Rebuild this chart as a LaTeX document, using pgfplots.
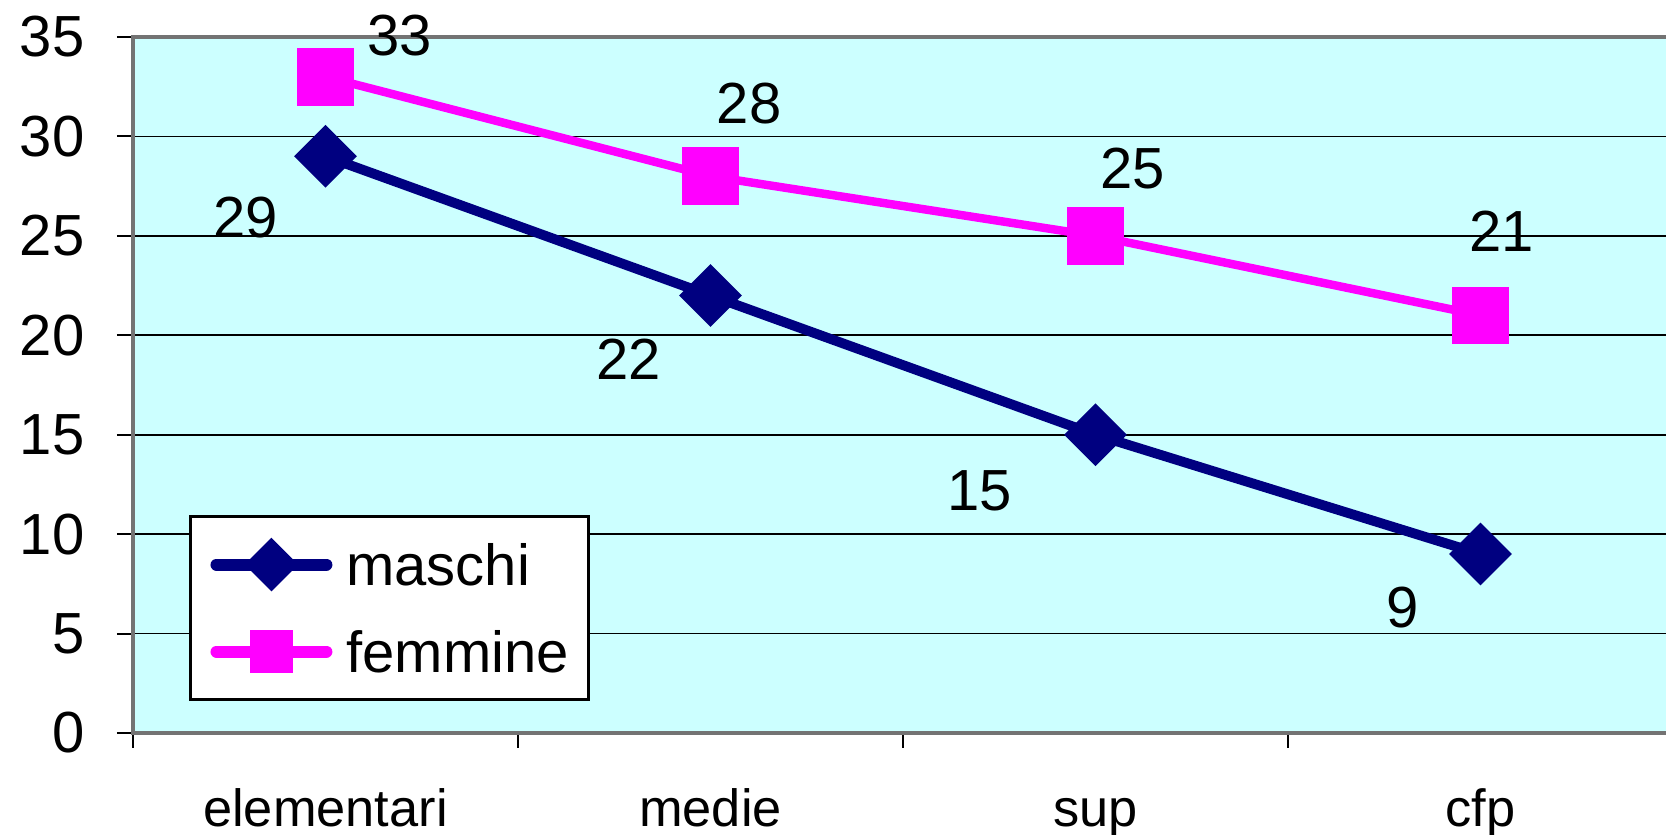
\documentclass[border=0pt]{standalone}
\usepackage{fontspec}
\setmainfont{Liberation Sans}
\usepackage{pgfplots}
\pgfplotsset{compat=1.18}
\definecolor{bgc}{HTML}{CCFFFF}
\definecolor{navyc}{HTML}{000080}
\definecolor{magc}{HTML}{FF00FF}
\begin{document}
\begin{tikzpicture}
\begin{axis}[
  name=ax,
  scale only axis,
  width=15.40cm, height=6.96cm,
  xmin=-0.5, xmax=3.5,
  ymin=0, ymax=35,
  clip=false,
  axis background/.style={fill=bgc},
  axis line style={draw=black!55, line width=1.3pt},
  ytick={0,5,...,35},
  xtick={0,1,2,3},
  xticklabels={elementari,medie,sup,cfp},
  minor xtick={-0.5,0.5,1.5,2.5},
  major x tick style={draw=none},
  tick pos=left,
  tick align=outside,
  major tick length=0.16cm,
  minor tick length=0.15cm,
  tick style={black, line width=0.6pt},
  ymajorgrids,
  major grid style={black, line width=0.5pt},
  /pgf/number format/assume math mode=true,
  yticklabel style={font=\fontsize{16.5}{18}\selectfont, anchor=east, inner sep=0pt, xshift=-0.32cm},
  xticklabel style={font=\fontsize{14.9}{16}\selectfont, anchor=base, inner sep=0pt, yshift=-0.78cm},
  legend style={at={(rel axis cs:0.0364,0.313)}, anchor=north west,
    draw=black, line width=0.8pt, fill=white,
    font=\fontsize{16.5}{18}\selectfont,
    inner xsep=0.2cm, inner ysep=0.27cm, row sep=0.45cm,
    nodes={inner sep=0pt, text height=0.42cm, text depth=0cm},
    /tikz/every odd column/.append style={column sep=0.14cm}},
  legend cell align=left,
]
\addplot[navyc, line width=2.8pt, mark=square*, mark size=4.9pt,
  mark options={rotate=45, draw=none, fill=navyc}, forget plot]
  coordinates {(0,29) (1,22) (2,15) (3,9)};
\addplot[magc, line width=2.4pt, mark=square*, mark size=7pt,
  mark options={draw=none, fill=magc}, forget plot]
  coordinates {(0,33) (1,28) (2,25) (3,21)};
\addlegendimage{legend image code/.code={
  \draw[navyc, line width=3.4pt, line cap=round, mark repeat=2, mark phase=2,
    mark=square*, mark size=3.7pt, mark options={rotate=45, draw=none, fill=navyc}]
    plot coordinates {(0cm,0cm) (0.55cm,0cm) (1.1cm,0cm)};}}
\addlegendentry{maschi}
\addlegendimage{legend image code/.code={
  \draw[magc, line width=3.4pt, line cap=round, mark repeat=2, mark phase=2,
    mark=square*, mark size=4.3pt, mark options={draw=none, fill=magc}]
    plot coordinates {(0cm,0cm) (0.55cm,0cm) (1.1cm,0cm)};}}
\addlegendentry{femmine}
\begin{scope}[every node/.style={font=\fontsize{16.5}{18}\selectfont, inner sep=0pt}]
\node at (axis cs:0.192,35.09) {33};
\node at (axis cs:1.1,31.67) {28};
\node at (axis cs:2.096,28.41) {25};
\node at (axis cs:3.054,25.21) {21};
\node at (axis cs:-0.208,25.9) {29};
\node at (axis cs:0.788,18.8) {22};
\node at (axis cs:1.699,12.17) {15};
\node at (axis cs:2.797,6.30) {9};
\end{scope}
\end{axis}
\pgfresetboundingbox
\path (ax.south west) ++(-1.33cm,-1.02cm) rectangle ++(16.66cm,8.35cm);
\end{tikzpicture}
\end{document}
